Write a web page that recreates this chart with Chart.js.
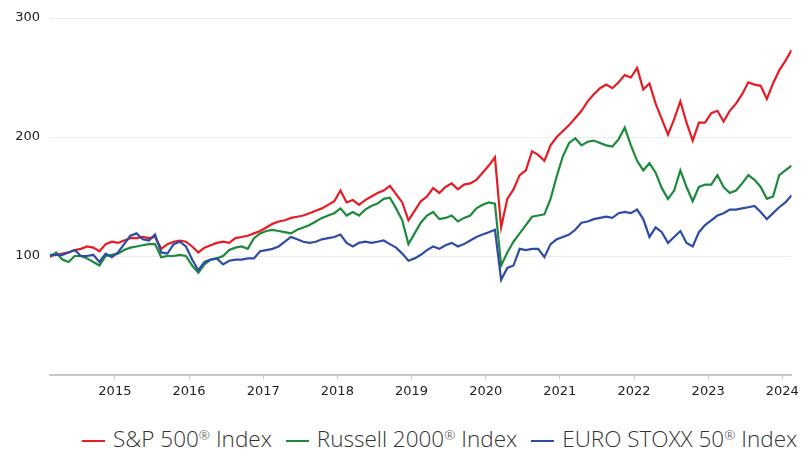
<!DOCTYPE html>
<html>
<head>
<meta charset="utf-8">
<script src="https://cdn.jsdelivr.net/npm/chart.js@4.4.1/dist/chart.umd.min.js"></script>
<style>
  html, body { margin: 0; padding: 0; background: #fff; overflow: hidden; }
  #wrap { position: relative; width: 804px; height: 451px; }
  #legend {
    position: absolute; left: 82px; top: 419px; width: 722px;
    white-space: nowrap; overflow: hidden;
    font-family: "Open Sans", "Noto Sans", sans-serif; font-weight: 300;
    font-size: 22.5px; color: #333; line-height: 30px;
  }
  .item { display: inline-flex; align-items: center; margin-right: 14px; }
  .swatch { display: inline-block; width: 23px; height: 2px; margin-right: 8px; margin-top: 5px; }
  sup { font-size: 0.6em; vertical-align: 0.55em; line-height: 0; }
</style>
</head>
<body>
<div id="wrap">
  <canvas id="chart" width="804" height="410"></canvas>
  <div id="legend"></div>
</div>
<script>
// monthly observations, Feb 2014 .. Feb 2024 (decimal years, mid-month)
const startYear = 2014.125;
const months = [];
for (let i = 0; i <= 120; i++) months.push(+(startYear + i / 12).toFixed(4));

const seriesNames = ['S&P 500® Index', 'Russell 2000® Index', 'EURO STOXX 50® Index'];
const seriesColors = ['#e61c24', '#1c8a3a', '#2e4ca6'];

const sp500 = [
  100, 101, 102, 103, 105, 106, 108, 107, 104, 110, 112, 111,
  113, 115, 115, 116, 115, 116, 106, 110, 112, 113, 112, 108,
  103, 107, 109, 111, 112, 111, 115, 116, 117, 119, 121, 124,
  127, 129, 130, 132, 133, 134, 136, 138, 140, 143, 146, 155,
  145, 147, 143, 147, 150, 153, 155, 159, 152, 145, 130, 138,
  146, 150, 157, 153, 158, 161, 156, 160, 161, 164, 170, 176,
  183, 124, 148, 156, 168, 172, 188, 185, 180, 193, 200, 205,
  210, 216, 222, 230, 236, 241, 244, 241, 246, 252, 250, 258,
  240, 245, 228, 215, 202, 215, 230, 212, 197, 212, 212, 220,
  222, 213, 222, 228, 236, 246, 244, 243, 232, 245, 256, 264,
  273
];

const russell2000 = [
  99, 103, 97, 95, 100, 100, 98, 95, 92, 100, 101, 102,
  105, 107, 108, 109, 110, 110, 99, 100, 100, 101, 100, 92,
  86, 93, 97, 98, 100, 105, 107, 108, 106, 115, 119, 121,
  122, 121, 120, 119, 122, 124, 126, 129, 132, 134, 136, 140,
  134, 137, 134, 139, 142, 144, 148, 149, 140, 130, 110, 119,
  128, 134, 137, 131, 132, 134, 129, 132, 134, 140, 143, 145,
  144, 92, 103, 112, 119, 126, 133, 134, 135, 148, 167, 184,
  195, 199, 193, 196, 197, 195, 193, 192, 198, 208, 193, 180,
  172, 178, 170, 157, 148, 155, 172, 158, 146, 158, 160, 160,
  168, 158, 153, 155, 161, 168, 164, 158, 148, 150, 168, 172,
  176
];

const eurostoxx50 = [
  101, 101, 101, 103, 105, 100, 100, 101, 95, 102, 99, 103,
  110, 117, 119, 114, 113, 118, 103, 102, 110, 112, 108, 97,
  88, 95, 97, 98, 93, 96, 97, 97, 98, 98, 104, 105,
  106, 108, 112, 116, 114, 112, 111, 112, 114, 115, 116, 118,
  111, 108, 111, 112, 111, 112, 113, 110, 107, 102, 96, 98,
  101, 105, 108, 106, 109, 111, 108, 110, 113, 116, 118, 120,
  122, 80, 90, 92, 106, 105, 106, 106, 99, 110, 114, 116,
  118, 122, 128, 129, 131, 132, 133, 132, 136, 137, 136, 139,
  131, 116, 124, 120, 111, 116, 121, 111, 108, 120, 126, 130,
  134, 136, 139, 139, 140, 141, 142, 137, 131, 136, 141, 145,
  151
];

const yearTicks = [2015, 2016, 2017, 2018, 2019, 2020, 2021, 2022, 2023, 2024];
const valueTicks = [100, 200, 300];

const allSeries = [sp500, russell2000, eurostoxx50];

const datasets = allSeries.map((vals, k) => ({
  label: seriesNames[k],
  data: vals.map((v, i) => ({ x: months[i], y: v })),
  borderColor: seriesColors[k],
  backgroundColor: seriesColors[k],
  borderWidth: 2.2,
  pointRadius: 0,
  tension: 0,
  order: k === 2 ? 0 : k === 0 ? 1 : 2
}));

const tickFont = { family: '"DejaVu Sans", Verdana, sans-serif', size: 13 };

new Chart(document.getElementById('chart'), {
  type: 'line',
  data: { datasets },
  options: {
    responsive: false,
    animation: false,
    layout: { padding: { top: 18, right: 11, left: 0, bottom: 0 } },
    plugins: { legend: { display: false }, tooltip: { enabled: false } },
    scales: {
      x: {
        type: 'linear',
        min: startYear,
        max: months[months.length - 1],
        afterBuildTicks: (axis) => { axis.ticks = yearTicks.map(v => ({ value: v })); },
        afterFit: (axis) => { axis.height = 35; },
        ticks: {
          includeBounds: false,
          autoSkip: false,
          maxRotation: 0,
          padding: 5,
          color: '#222',
          font: tickFont,
          callback: (v) => String(v)
        },
        grid: { drawOnChartArea: false, drawTicks: true, tickLength: 4, color: '#c8c8c8' },
        border: { display: true, color: '#c8c8c8', width: 2 }
      },
      y: {
        min: 0,
        max: 300,
        afterBuildTicks: (axis) => { axis.ticks = [0].concat(valueTicks).map(v => ({ value: v })); },
        afterFit: (axis) => { axis.width = 50; },
        ticks: {
          padding: 10,
          color: '#222',
          font: tickFont,
          callback: (v) => (v === 0 ? null : String(v))
        },
        grid: { drawTicks: false, color: '#ececec', lineWidth: 1 },
        border: { display: false }
      }
    }
  }
});

// html legend (the reference one runs off the right edge)
const legend = document.getElementById('legend');
seriesNames.forEach((name, k) => {
  const item = document.createElement('span');
  item.className = 'item';
  const sw = document.createElement('span');
  sw.className = 'swatch';
  sw.style.background = seriesColors[k];
  const txt = document.createElement('span');
  const parts = name.split('®');
  txt.appendChild(document.createTextNode(parts[0]));
  const sup = document.createElement('sup');
  sup.textContent = '®';
  txt.appendChild(sup);
  txt.appendChild(document.createTextNode(parts[1]));
  item.appendChild(sw);
  item.appendChild(txt);
  legend.appendChild(item);
});
</script>
</body>
</html>
